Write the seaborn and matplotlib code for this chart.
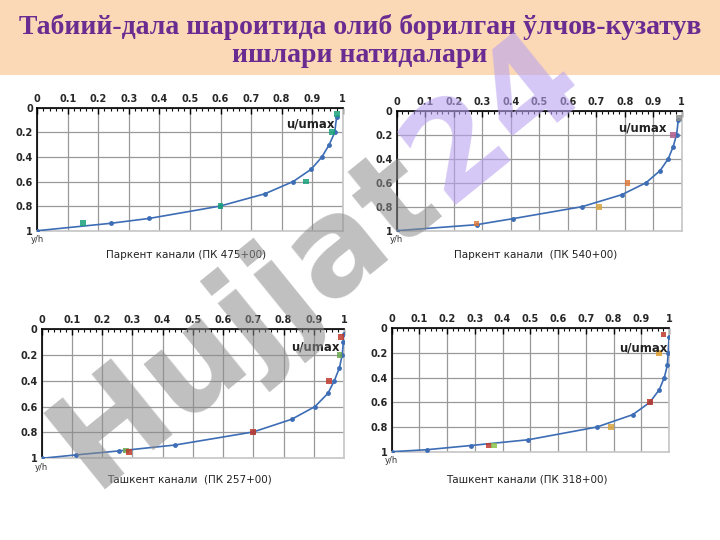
import numpy as np
import matplotlib
matplotlib.use("Agg")
import matplotlib.pyplot as plt
import seaborn as sns
from matplotlib.patches import Rectangle
from matplotlib.ticker import MultipleLocator

sns.set_theme(style="white")
plt.rcParams["font.family"] = ["DejaVu Sans"]

# velocity profiles u/umax vs y/h (blue line) + measured points
p1_u = [0.0, 0.24, 0.367, 0.598, 0.745, 0.838, 0.897, 0.932, 0.956, 0.974, 0.98, 0.98]
p1_y = [1.0, 0.94, 0.90, 0.80, 0.70, 0.60, 0.50, 0.40, 0.30, 0.20, 0.10, 0.05]
p1_mu = [0.15, 0.60, 0.88, 0.965, 0.98]
p1_my = [0.94, 0.80, 0.60, 0.20, 0.05]
p1_mc = ["#1aa37a", "#1aa37a", "#1aa37a", "#1aa37a", "#1aa37a"]

p2_u = [0.0, 0.28, 0.407, 0.65, 0.79, 0.875, 0.924, 0.953, 0.97, 0.982, 0.988, 0.988]
p2_y = [1.0, 0.95, 0.90, 0.80, 0.70, 0.60, 0.50, 0.40, 0.30, 0.20, 0.10, 0.06]
p2_mu = [0.28, 0.71, 0.81, 0.97, 0.99]
p2_my = [0.94, 0.80, 0.60, 0.20, 0.06]
p2_mc = ["#e07b39", "#d9a441", "#e07b39", "#b05c8c", "#8c8c8c"]

p3_u = [0.0, 0.112, 0.255, 0.442, 0.70, 0.827, 0.904, 0.947, 0.968, 0.985, 0.994, 0.998, 1.0]
p3_y = [1.0, 0.974, 0.943, 0.897, 0.796, 0.698, 0.60, 0.497, 0.40, 0.30, 0.20, 0.10, 0.04]
p3_mu = [0.28, 0.29, 0.70, 0.95, 0.985, 0.99]
p3_my = [0.94, 0.95, 0.80, 0.40, 0.20, 0.06]
p3_mc = ["#6aa84f", "#c0392b", "#c0392b", "#c0392b", "#6aa84f", "#c0392b"]

p4_u = [0.0, 0.126, 0.285, 0.493, 0.74, 0.869, 0.931, 0.965, 0.983, 0.994, 0.997, 1.0, 1.0]
p4_y = [1.0, 0.984, 0.95, 0.903, 0.80, 0.70, 0.60, 0.497, 0.40, 0.30, 0.197, 0.095, 0.05]
p4_mu = [0.35, 0.37, 0.79, 0.93, 0.965, 0.98]
p4_my = [0.95, 0.95, 0.80, 0.60, 0.20, 0.05]
p4_mc = ["#c0392b", "#8bc34a", "#d9a441", "#c0392b", "#e0a030", "#c0392b"]

captions = ["Паркент канали (ПК 475+00)", "Паркент канали  (ПК 540+00)",
            "Ташкент канали  (ПК 257+00)", "Ташкент канали (ПК 318+00)"]
x_ticks = [0, 0.1, 0.2, 0.3, 0.4, 0.5, 0.6, 0.7, 0.8, 0.9, 1]
x_labels = ["0", "0.1", "0.2", "0.3", "0.4", "0.5", "0.6", "0.7", "0.8", "0.9", "1"]
y_ticks = [0, 0.2, 0.4, 0.6, 0.8, 1]
y_labels = ["0", "0.2", "0.4", "0.6", "0.8", "1"]

W, H = 720, 540
fig = plt.figure(figsize=(7.2, 5.4), dpi=100)
fig.patch.set_facecolor("white")

# title band
fig.patches.append(Rectangle((0, 1 - 75 / H), 1, 75 / H, transform=fig.transFigure,
                             facecolor="#fcd9b6", edgecolor="none", zorder=0))
fig.text(0.5, 1 - 27 / H, "Табиий-дала шароитида олиб борилган ўлчов-кузатув",
         ha="center", va="center", fontsize=20, fontweight="bold",
         family=["Liberation Serif"], color="#6a2c91")
fig.text(0.5, 1 - 56 / H, "ишлари натидалари",
         ha="center", va="center", fontsize=20, fontweight="bold",
         family=["Liberation Serif"], color="#6a2c91")

# axes boxes in pixels: x0, x1, y0(top), y1(bottom)
boxes = [(37.3, 342.7, 107.7, 230.7), (396.7, 681.7, 110.7, 230.7),
         (41.7, 344.0, 329.0, 458.3), (391.7, 669.0, 328.3, 451.7)]
umax_pos = [(0.975, 0.135), (0.947, 0.147), (0.987, 0.137), (0.995, 0.157)]
cap_y = [255, 255, 480, 480]

panels = [(p1_u, p1_y, p1_mu, p1_my, p1_mc), (p2_u, p2_y, p2_mu, p2_my, p2_mc),
          (p3_u, p3_y, p3_mu, p3_my, p3_mc), (p4_u, p4_y, p4_mu, p4_my, p4_mc)]

for i, (u, y, mu, my, mc) in enumerate(panels):
    x0, x1, y0, y1 = boxes[i]
    ax = fig.add_axes([x0 / W, 1 - y1 / H, (x1 - x0) / W, (y1 - y0) / H])
    ax.set_facecolor("none")
    sns.lineplot(x=u, y=y, ax=ax, sort=False, color="#3d6db5", linewidth=1.2,
                 marker="o", markersize=3.5, markeredgewidth=0, zorder=3)
    ax.scatter(mu, my, c=mc, s=18, marker="s", zorder=4, linewidths=0, alpha=0.85)
    ax.set_xlim(0, 1)
    ax.set_ylim(1, 0)
    ax.xaxis.tick_top()
    ax.set_xticks(x_ticks)
    ax.set_xticklabels(x_labels)
    ax.set_yticks(y_ticks)
    ax.set_yticklabels(y_labels)
    ax.xaxis.set_minor_locator(MultipleLocator(0.02))
    ax.yaxis.set_minor_locator(MultipleLocator(0.04))
    ax.tick_params(axis="both", which="major", direction="in", length=4, width=1,
                   color="black", labelsize=7, pad=3)
    ax.tick_params(axis="both", which="minor", direction="in", length=2.5, width=0.8,
                   color="black")
    for lab in ax.get_xticklabels() + ax.get_yticklabels():
        lab.set_fontweight("bold")
    ax.grid(True, which="major", color="#999999", linewidth=0.9)
    ax.set_axisbelow(True)
    ax.spines["top"].set_color("black")
    ax.spines["left"].set_color("black")
    ax.spines["top"].set_linewidth(1.2)
    ax.spines["left"].set_linewidth(1.2)
    ax.spines["right"].set_color("#c8c8c8")
    ax.spines["bottom"].set_color("#c8c8c8")
    ax.set_xlabel("")
    ax.set_ylabel("")
    ux, uy = umax_pos[i]
    ax.text(ux, uy, "u/umax", ha="right", va="center", fontsize=8.5,
            fontweight="bold", color="#222222", zorder=5)
    fig.text(x0 / W, 1 - (y1 + 9) / H, "y/h", ha="center", va="center",
             fontsize=6, color="#333333")
    fig.text((x0 + x1) / 2 / W - 0.005, 1 - cap_y[i] / H, captions[i], ha="center",
             va="center", fontsize=7.5, color="#222222")

# watermark
wx, wy = 445 / W, 1 - 205 / H
fig.text(wx, wy, "Hujjat", rotation=39, rotation_mode="anchor", ha="right",
         va="baseline", fontsize=96, fontweight="bold", color="#8c8c8c",
         alpha=0.55, zorder=10)
fig.text(wx, wy, "24", rotation=39, rotation_mode="anchor", ha="left",
         va="baseline", fontsize=96, fontweight="bold", color="#b9a2f0",
         alpha=0.6, zorder=10)

fig.savefig("out.png", dpi=100)
